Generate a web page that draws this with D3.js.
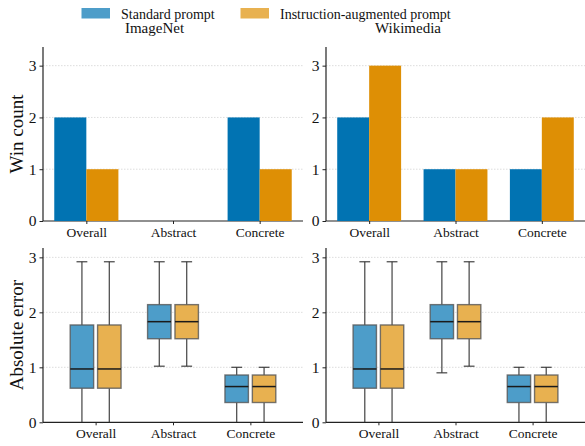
<!DOCTYPE html>
<html>
<head>
<meta charset="utf-8">
<script src="https://cdn.jsdelivr.net/npm/d3@7"></script>
<style>
  html, body { margin: 0; padding: 0; background: #fff; }
  svg { display: block; }
  svg text { font-family: "Liberation Serif", "Times New Roman", "DejaVu Serif", serif; }
</style>
</head>
<body>
<svg id="chart" width="585" height="446"></svg>
<script>
// Categories and series
const categories = ["Overall", "Abstract", "Concrete"];
const seriesNames = ["Standard prompt", "Instruction-augmented prompt"];
const datasets = ["ImageNet", "Wikimedia"];

// Win counts per category
const winsImageNetStandard = [2, 0, 2];
const winsImageNetInstruct = [1, 0, 1];
const winsWikimediaStandard = [2, 1, 1];
const winsWikimediaInstruct = [3, 1, 2];

// Absolute-error box summaries: [whiskerLow, q1, median, q3, whiskerHigh]
const errImageNetStandard = [[0, 0.62, 0.97, 1.77, 2.92], [1.02, 1.52, 1.83, 2.14, 2.92], [0, 0.36, 0.65, 0.86, 1.0]];
const errImageNetInstruct = [[0, 0.62, 0.97, 1.77, 2.92], [1.02, 1.52, 1.83, 2.14, 2.92], [0, 0.36, 0.65, 0.86, 1.0]];
const errWikimediaStandard = [[0, 0.62, 0.97, 1.77, 2.92], [0.90, 1.52, 1.83, 2.14, 2.92], [0, 0.36, 0.65, 0.86, 1.0]];
const errWikimediaInstruct = [[0, 0.62, 0.97, 1.77, 2.92], [1.02, 1.52, 1.83, 2.14, 2.92], [0, 0.36, 0.65, 0.86, 1.0]];

const yTicks = [0, 1, 2, 3];

const barColors = ["#0173b2", "#de8f05"];
const boxColors = ["#4d9dc9", "#e8b150"];

const SERIF = "'Liberation Serif', 'Times New Roman', 'DejaVu Serif', serif";

const svg = d3.select("#chart").attr("font-family", SERIF);

// Panel layout
const cols = [{ x0: 43, x1: 303 }, { x0: 326, x1: 585 }];
const topRow = { y0: 47, y1: 221 };
const botRow = { y0: 248, y1: 422.3 };

// Legend
const legend = svg.append("g");
const legendItems = [{ x: 81.5, name: seriesNames[0], c: boxColors[0] },
                     { x: 240.5, name: seriesNames[1], c: boxColors[1] }];
legendItems.forEach(d => {
  legend.append("rect").attr("x", d.x).attr("y", 8).attr("width", 28.5).attr("height", 10.5).attr("fill", d.c);
  legend.append("text").attr("x", d.x + 39.5).attr("y", 18.5).attr("font-family", SERIF)
    .attr("font-size", 14).attr("fill", "#111").text(d.name);
});

// Titles
const titleX = [154.5, 408];
datasets.forEach((t, i) => {
  svg.append("text").attr("x", titleX[i]).attr("y", 33).attr("text-anchor", "middle").attr("font-family", SERIF)
    .attr("font-size", 15).attr("fill", "#111").text(t);
});

function drawAxes(g, x, y, col, row, yLabel) {
  // grid
  g.append("g").selectAll("line").data(yTicks.filter(t => t > 0)).join("line")
    .attr("x1", col.x0).attr("x2", col.x1)
    .attr("y1", d => y(d)).attr("y2", d => y(d))
    .attr("stroke", "#d4d4d4").attr("stroke-width", 0.8).attr("stroke-dasharray", "1.5,1.5");

  const ya = g.append("g").attr("transform", `translate(${col.x0},0)`)
    .call(d3.axisLeft(y).tickValues(yTicks).tickFormat(d3.format("d")).tickSize(3.5).tickPadding(3));
  ya.attr("font-family", SERIF);
  ya.select(".domain").attr("stroke", "#222").attr("stroke-width", 1.2).attr("d", `M0,${row.y0}V${row.y1}`);
  ya.selectAll(".tick line").attr("stroke", "#222").attr("stroke-width", 1);
  ya.selectAll(".tick text").attr("font-size", 15.5).attr("fill", "#111").attr("font-family", SERIF);

  const xa = g.append("g").attr("transform", `translate(0,${row.y1})`)
    .call(d3.axisBottom(x).tickValues([0, 1, 2]).tickFormat(i => categories[i]).tickSize(3).tickPadding(3.5));
  xa.attr("font-family", SERIF);
  xa.select(".domain").attr("stroke", "#222").attr("stroke-width", 1.2).attr("d", `M${col.x0},0H${col.x1}`);
  xa.selectAll(".tick line").attr("stroke", "#222").attr("stroke-width", 1);
  xa.selectAll(".tick text").attr("font-size", 13.5).attr("fill", "#111").attr("font-family", SERIF);

  if (yLabel) {
    g.append("text")
      .attr("transform", `translate(23,${(row.y0 + row.y1) / 2}) rotate(-90)`)
      .attr("text-anchor", "middle").attr("font-family", SERIF)
      .attr("font-size", 19).attr("fill", "#111").text(yLabel);
  }
}

// Top row: win-count bars
const winsData = [[winsImageNetStandard, winsImageNetInstruct], [winsWikimediaStandard, winsWikimediaInstruct]];
const barW = 0.37;
winsData.forEach((pair, p) => {
  const col = cols[p];
  const x = d3.scaleLinear().domain([-0.5, 2.5]).range([col.x0, col.x1]);
  const y = d3.scaleLinear().domain([0, 3.36]).range([topRow.y1, topRow.y0]);
  const g = svg.append("g");
  drawAxes(g, x, y, col, topRow, p === 0 ? "Win count" : null);
  pair.forEach((vals, s) => {
    g.append("g").selectAll("rect").data(vals).join("rect")
      .attr("x", (d, i) => x(i + (s === 0 ? -barW : 0)))
      .attr("width", x(barW) - x(0))
      .attr("y", d => y(d))
      .attr("height", d => y(0) - y(d))
      .attr("fill", barColors[s]);
  });
  g.selectAll(".domain").raise();
});

// Bottom row: absolute-error boxes
const errData = [[errImageNetStandard, errImageNetInstruct], [errWikimediaStandard, errWikimediaInstruct]];
const boxOffset = 0.177, boxW = 0.303, capW = 0.14;
errData.forEach((pair, p) => {
  const col = cols[p];
  const x = d3.scaleLinear().domain([-0.68, 2.68]).range([col.x0, col.x1]);
  const y = d3.scaleLinear().domain([0, 3.17]).range([botRow.y1, botRow.y0]);
  const g = svg.append("g");
  drawAxes(g, x, y, col, botRow, p === 0 ? "Absolute error" : null);
  pair.forEach((stats, s) => {
    const sg = g.append("g");
    stats.forEach((st, i) => {
      const cx = i + (s === 0 ? -boxOffset : boxOffset);
      const [lo, q1, med, q3, hi] = st;
      const bg = sg.append("g");
      // whiskers
      bg.append("line").attr("x1", x(cx)).attr("x2", x(cx)).attr("y1", y(q3)).attr("y2", y(hi))
        .attr("stroke", "#333").attr("stroke-width", 1.3).attr("stroke-opacity", 0.85);
      bg.append("line").attr("x1", x(cx)).attr("x2", x(cx)).attr("y1", y(q1)).attr("y2", y(lo))
        .attr("stroke", "#333").attr("stroke-width", 1.3).attr("stroke-opacity", 0.85);
      [lo, hi].forEach(v => {
        if (v > 0) {
          bg.append("line").attr("x1", x(cx - capW / 2)).attr("x2", x(cx + capW / 2))
            .attr("y1", y(v)).attr("y2", y(v)).attr("stroke", "#333").attr("stroke-width", 1.3).attr("stroke-opacity", 0.85);
        }
      });
      // box
      bg.append("rect").attr("x", x(cx - boxW / 2)).attr("width", x(boxW) - x(0))
        .attr("y", y(q3)).attr("height", y(q1) - y(q3))
        .attr("fill", boxColors[s]).attr("stroke", "#555").attr("stroke-opacity", 0.8).attr("stroke-width", 1.4);
      // median
      bg.append("line").attr("x1", x(cx - boxW / 2)).attr("x2", x(cx + boxW / 2))
        .attr("y1", y(med)).attr("y2", y(med)).attr("stroke", "#1a1a1a").attr("stroke-width", 1.5);
    });
  });
  g.selectAll(".domain").raise();
});
</script>
</body>
</html>
